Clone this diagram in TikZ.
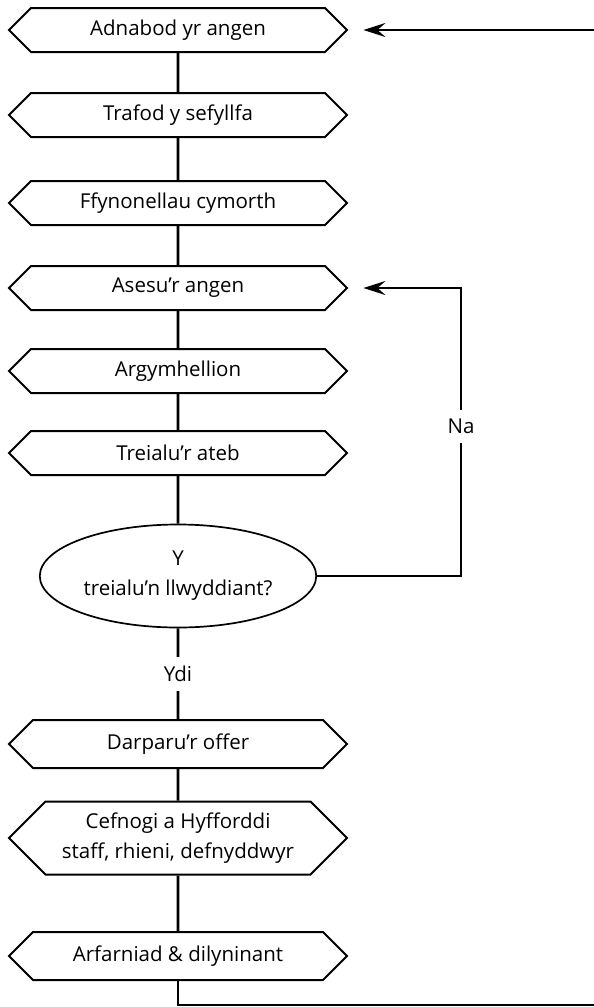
\documentclass[tikz,border=0pt]{standalone}
\usepackage{fontspec}
\setmainfont{Open Sans}
\usepackage{tikz}
\usetikzlibrary{shapes.symbols}
\usetikzlibrary{shapes.geometric}
\usetikzlibrary{arrows.meta}

\tikzset{
  stagebox/.style={draw, black, line width=2pt, signal, signal to=east and west, signal pointer angle=90, minimum width=338pt, minimum height=44pt, align=center, font=\fontsize{20.5}{30}\selectfont},
  testbox/.style={draw, black, line width=1.7pt, ellipse, minimum width=276pt, minimum height=103pt, align=center, font=\fontsize{20.5}{30}\selectfont},
  flowline/.style={black, line width=2.6pt},
  backline/.style={black, line width=2.6pt, -{Stealth[length=22pt, width=14pt, inset=8pt]}, shorten >=15pt},
  answer/.style={fill=white, inner xsep=4pt, inner ysep=9pt, font=\fontsize{20.5}{24}\selectfont}
}

\begin{document}
\begin{tikzpicture}[x=1pt, y=1pt, node distance=85pt]
\useasboundingbox (0,0) rectangle (594,-1007);
\node[stagebox] (Adnabod) at (178,-30) {Adnabod yr angen};
\node[stagebox, below of=Adnabod] (Trafod) {Trafod y sefyllfa};
\node[stagebox, below of=Trafod, yshift=-3pt] (Ffynonellau) {Ffynonellau cymorth};
\node[stagebox, below of=Ffynonellau] (Asesu) {Asesu’r angen};
\node[stagebox, below of=Asesu, yshift=2pt] (Argymhell) {Argymhellion};
\node[stagebox, below of=Argymhell, yshift=3pt] (Treialu) {Treialu’r ateb};
\node[testbox, below of=Treialu, yshift=-38pt] (Llwyddiant) {Y\\treialu’n llwyddiant?};
\node[stagebox, below of=Llwyddiant, yshift=-83pt, minimum height=48pt] (Darparu) {Darparu’r offer};
\node[stagebox, below of=Darparu, yshift=-9pt, minimum height=73pt] (Cefnogi) {Cefnogi a Hyfforddi\\staff, rhieni, defnyddwyr};
\node[stagebox, below of=Cefnogi, yshift=-33pt, minimum height=48pt] (Arfarniad) {Arfarniad \& dilyninant};
\coordinate (NaTurn) at (461,0);
\coordinate (Return) at (600,-1005);
% main line
\draw[flowline] (Adnabod) -- (Trafod);
\draw[flowline] (Trafod) -- (Ffynonellau);
\draw[flowline] (Ffynonellau) -- (Asesu);
\draw[flowline] (Asesu) -- (Argymhell);
\draw[flowline] (Argymhell) -- (Treialu);
\draw[flowline] (Treialu) -- (Llwyddiant);
\draw[flowline] (Llwyddiant) -- node[answer] {Ydi} (Darparu);
\draw[flowline] (Darparu) -- (Cefnogi);
\draw[flowline] (Cefnogi) -- (Arfarniad);
% loops back
\draw[backline] (Llwyddiant.east) -| node[answer, pos=0.76] {Na} (NaTurn |- Asesu.east) -- (Asesu.east);
\draw[backline] (Arfarniad) |- (Return) |- (Adnabod.east);
\end{tikzpicture}
\end{document}
